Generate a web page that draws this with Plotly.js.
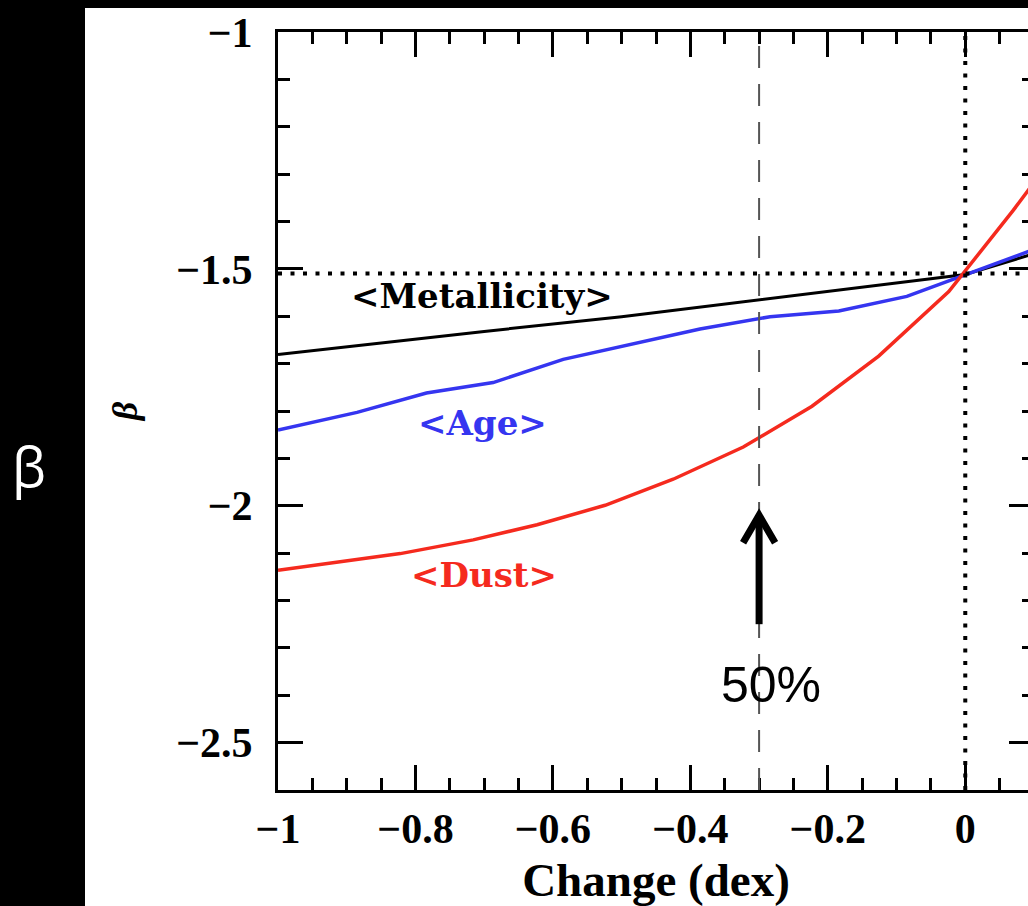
<!DOCTYPE html>
<html>
<head>
<meta charset="utf-8">
<script src="https://cdn.plot.ly/plotly-3.0.1.min.js"></script>
<style>
html, body { margin:0; padding:0; background:#000; overflow:hidden; width:1028px; height:906px; }
#chart { position:absolute; left:85px; top:8px; width:960px; height:898px; }
#sideBeta { position:absolute; left:0; top:436px; width:58px; text-align:center; color:#fff;
  font-family:"Open Sans", "Noto Sans", sans-serif; font-size:54px; line-height:60px; }
</style>
</head>
<body>
<div id="sideBeta">β</div>
<div id="chart"></div>
<script>
// ---- data ----
const metalX = [-1, -0.7, -0.5, -0.3, -0.1, 0, 0.1];
const metalY = [-1.681, -1.632, -1.601, -1.565, -1.530, -1.512, -1.468];

const ageX = [-1, -0.885, -0.784, -0.687, -0.585, -0.386, -0.284, -0.184, -0.085, 0, 0.1];
const ageY = [-1.840, -1.803, -1.762, -1.740, -1.691, -1.627, -1.601, -1.589, -1.558, -1.512, -1.459];

const dustX = [-1, -0.922, -0.822, -0.716, -0.623, -0.524, -0.425, -0.323, -0.223, -0.126, -0.024, 0.07, 0.1];
const dustY = [-2.136, -2.121, -2.101, -2.072, -2.040, -1.999, -1.944, -1.876, -1.790, -1.684, -1.548, -1.376, -1.318];

const refBeta = -1.51;      // dotted horizontal reference
const refChange = 0;        // dotted vertical reference
const halfChange = -0.3;    // dashed line, 50%
const arrowTip = -2.02;
const arrowBase = -2.25;
const arrowArmY = -2.078;
const arrowArmDX = 0.0233;

const labels = ["<Metallicity>", "<Age>", "<Dust>", "50%"];
const labelX = [-0.703, -0.702, -0.700, -0.282];
const labelY = [-1.557, -1.825, -2.146, -2.378];

const xRange = [-1, 0.1];
const yRange = [-2.6, -1];

const cBlack = "#000000", cBlue = "#3535f0", cRed = "#f52a1e";

const traces = [
  {x: metalX, y: metalY, mode: "lines", line: {color: cBlack, width: 3}, hoverinfo: "skip"},
  {x: ageX, y: ageY, mode: "lines", line: {color: cBlue, width: 3.5}, hoverinfo: "skip"},
  {x: dustX, y: dustY, mode: "lines", line: {color: cRed, width: 3.5}, hoverinfo: "skip"}
];

const tickFont = {family: "Liberation Serif, serif", size: 42, color: "#000", weight: "bold"};
const labelFont = (c) => ({family: "DejaVu Serif, serif", size: 34, color: c, weight: "bold"});
const esc = (s) => s.replace(/</g, "&lt;").replace(/>/g, "&gt;");

const axisCommon = {
  showline: true, linewidth: 3, linecolor: "#000", mirror: "ticks",
  ticks: "inside", ticklen: 25, tickwidth: 3, tickcolor: "#000",
  showgrid: false, zeroline: false, tickfont: tickFont
};

const layout = {
  width: 960, height: 898,
  margin: {l: 193, r: 11, t: 24, b: 116},
  paper_bgcolor: "#fff", plot_bgcolor: "#fff",
  showlegend: false,
  xaxis: Object.assign({}, axisCommon, {
    range: xRange, tick0: 0, dtick: 0.2, ticklabelstandoff: 0,
    minor: {dtick: 0.05, ticklen: 12, tickwidth: 3, tickcolor: "#000", ticks: "inside"},
    title: {text: "Change (dex)", standoff: 30,
      font: {family: "Liberation Serif, serif", size: 47, color: "#000", weight: "bold"}}
  }),
  yaxis: Object.assign({}, axisCommon, {
    range: yRange, tick0: -1, dtick: 0.5, ticklabelstandoff: 14,
    minor: {dtick: 0.1, ticklen: 12, tickwidth: 3, tickcolor: "#000", ticks: "inside"},
    title: {text: "β", standoff: 28,
      font: {family: "Liberation Serif, serif", size: 36, color: "#000", weight: "bold", style: "italic"}}
  }),
  shapes: [
    {type: "line", xref: "x", yref: "y", x0: xRange[0], x1: xRange[1], y0: refBeta, y1: refBeta,
     line: {color: "#000", width: 4, dash: "4px,8.5px"}},
    {type: "line", xref: "x", yref: "paper", x0: refChange, x1: refChange, y0: 0, y1: 1,
     line: {color: "#000", width: 4, dash: "4px,8.5px"}},
    {type: "line", xref: "x", yref: "paper", x0: halfChange, x1: halfChange, y0: 0, y1: 1,
     line: {color: "#555", width: 2, dash: "22px,16px"}},
    {type: "path", xref: "x", yref: "y",
     path: `M ${halfChange},${arrowBase} L ${halfChange},${arrowTip - 0.01}`,
     line: {color: "#000", width: 7}},
    {type: "path", xref: "x", yref: "y",
     path: `M ${halfChange - arrowArmDX},${arrowArmY} L ${halfChange},${arrowTip} L ${halfChange + arrowArmDX},${arrowArmY}`,
     line: {color: "#000", width: 7}}
  ],
  annotations: [
    {x: labelX[0], y: labelY[0], text: esc(labels[0]), showarrow: false, font: labelFont(cBlack)},
    {x: labelX[1], y: labelY[1], text: esc(labels[1]), showarrow: false, font: labelFont(cBlue)},
    {x: labelX[2], y: labelY[2], text: esc(labels[2]), showarrow: false, font: labelFont(cRed)},
    {x: labelX[3], y: labelY[3], text: labels[3], showarrow: false,
     font: {family: "Liberation Sans, Arial, sans-serif", size: 50, color: "#000"}}
  ]
};

Plotly.newPlot("chart", traces, layout, {staticPlot: true, displayModeBar: false});
</script>
</body>
</html>
